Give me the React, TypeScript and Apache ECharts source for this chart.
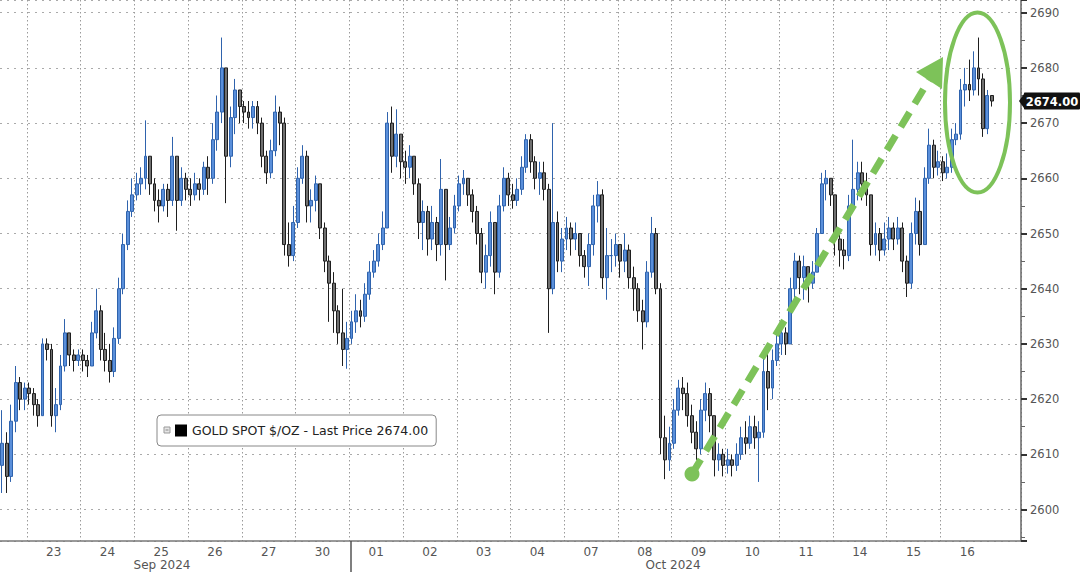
import React, { useEffect, useRef } from 'react';
import * as echarts from 'echarts';

// Trading days shown on the axis (first and last are partial)
const axisDays = ['20', '23', '24', '25', '26', '27', '30', '01', '02', '03', '04', '07', '08', '09', '10', '11', '14', '15', '16', '17'];
const slotsPerDay = [6, 12, 12, 12, 12, 12, 12, 12, 12, 12, 12, 12, 12, 12, 12, 12, 12, 12, 12, 6];
const labeledDays = ['23', '24', '25', '26', '27', '30', '01', '02', '03', '04', '07', '08', '09', '10', '11', '14', '15', '16'];
const monthLabels = ['Sep 2024', 'Oct 2024'];

const seriesName = 'GOLD SPOT $/OZ - Last Price 2674.00';
const lastPrice = 2674.0;
const firstOpen = 2608;

// Closing prices per candle (day by day)
const closes = [
  2612, 2606, 2616, 2623, 2620, 2622,
  2621, 2619, 2617, 2630, 2629, 2617, 2619, 2626, 2632, 2628, 2627, 2628,
  2627, 2626, 2632, 2636, 2629, 2627, 2625, 2631, 2640, 2648, 2654, 2657,
  2659, 2660, 2664, 2659, 2656, 2655, 2658, 2656, 2664, 2656, 2660, 2658,
  2657, 2659, 2658, 2662, 2660, 2667, 2672, 2680, 2664, 2671, 2676, 2673,
  2672, 2671, 2673, 2670, 2664, 2661, 2665, 2672, 2670, 2648, 2646, 2652,
  2660, 2664, 2655, 2656, 2659, 2651, 2645, 2641, 2636, 2632, 2629, 2631,
  2634, 2636, 2635, 2639, 2643, 2645, 2648, 2651, 2670, 2664, 2668, 2663,
  2662, 2664, 2659, 2652, 2654, 2649, 2652, 2648, 2658, 2648, 2651, 2655,
  2659, 2660, 2657, 2654, 2650, 2643, 2646, 2652, 2643, 2655, 2660, 2657,
  2656, 2658, 2662, 2667, 2663, 2660, 2661, 2658, 2640, 2652, 2645, 2649,
  2651, 2649, 2650, 2646, 2644, 2648, 2655, 2657, 2642, 2646, 2646, 2648,
  2645, 2647, 2642, 2640, 2636, 2634, 2643, 2650, 2640, 2613, 2609, 2612,
  2618, 2622, 2621, 2617, 2614, 2611, 2618, 2621, 2617, 2609, 2610, 2608,
  2609, 2608, 2610, 2613, 2612, 2615, 2613, 2614, 2625, 2622, 2627, 2630,
  2632, 2630, 2640, 2645, 2642, 2644, 2641, 2643, 2650, 2659, 2660, 2657,
  2649, 2647, 2646, 2655, 2658, 2661, 2659, 2657, 2648, 2650, 2647, 2649,
  2651, 2649, 2651, 2645, 2641, 2650, 2654, 2648, 2660, 2666, 2662, 2663,
  2661, 2662, 2667, 2668, 2676, 2677, 2676, 2680, 2678, 2669, 2675, 2674,
];

const highs = [
  2618, 2614, 2619, 2626, 2624, 2623,
  2623, 2622, 2620, 2631, 2631, 2630, 2622, 2628, 2634.5, 2632, 2629, 2629,
  2629, 2628, 2634, 2640, 2637, 2632, 2630, 2633, 2642, 2650, 2656, 2660,
  2661, 2662, 2670.5, 2664, 2660, 2658, 2659, 2659, 2667.5, 2664, 2662, 2661,
  2660, 2661, 2660, 2663, 2664, 2670, 2675, 2685.5, 2680, 2673, 2678, 2676,
  2674, 2674, 2674, 2674, 2671, 2665, 2667, 2675, 2673, 2671, 2652, 2655,
  2662, 2666, 2665, 2658, 2660.5, 2659, 2652, 2646, 2643, 2637, 2640, 2634,
  2636, 2639, 2638, 2641, 2645, 2647, 2650, 2654, 2672, 2673, 2672.5, 2668,
  2665, 2666, 2664, 2660, 2656, 2655, 2655, 2653, 2663.5, 2658, 2653, 2657,
  2660.5, 2661.5, 2660, 2658, 2655, 2651, 2648, 2654, 2652, 2657, 2662, 2661,
  2659, 2660, 2664, 2668, 2668, 2664, 2663, 2663, 2659, 2670, 2654, 2651,
  2653, 2652, 2652, 2650, 2647, 2650, 2657, 2659.5, 2658, 2651, 2649, 2650,
  2648, 2650, 2648, 2644, 2641, 2638, 2645, 2653, 2651, 2641, 2617, 2615,
  2620, 2623.5, 2624, 2623, 2619, 2616, 2620, 2623, 2622, 2617, 2612, 2611,
  2611, 2610, 2612, 2615, 2616, 2617, 2617, 2616, 2628, 2629.5, 2629, 2632,
  2634, 2633, 2642, 2646.5, 2646, 2646, 2644, 2645, 2651, 2661, 2661.5, 2660,
  2657, 2651, 2649, 2657, 2667, 2663, 2663, 2661, 2657, 2652, 2651, 2652,
  2653, 2652, 2653, 2652, 2646, 2652, 2656.5, 2656, 2662, 2669, 2667, 2665,
  2664, 2664.5, 2669, 2670, 2678, 2680, 2681.5, 2683, 2685.5, 2679, 2676, 2675,
];

const lows = [
  2603, 2603, 2605, 2614, 2618, 2618,
  2619, 2617, 2615, 2617, 2627, 2615, 2614, 2618, 2625, 2626, 2625, 2626,
  2625, 2624, 2626, 2631, 2627, 2625, 2623, 2624, 2630, 2639, 2647, 2653,
  2656, 2657, 2658, 2657, 2654, 2652, 2654, 2653, 2655, 2650.5, 2655, 2656,
  2655, 2656, 2656, 2657, 2657, 2659, 2665, 2670, 2655.5, 2662, 2668, 2670,
  2670, 2669, 2669, 2668, 2662, 2659, 2660, 2664, 2666, 2646, 2644, 2645,
  2651, 2659, 2652, 2652, 2654, 2649, 2643, 2634, 2632, 2630, 2626, 2625.5,
  2630, 2632, 2633, 2634, 2638, 2642, 2644, 2647, 2651, 2661, 2662, 2660,
  2659, 2660, 2657, 2649, 2647, 2646, 2647, 2645, 2646, 2641.5, 2647, 2650,
  2654, 2657, 2655, 2652, 2648, 2641, 2640, 2644, 2639, 2642, 2654, 2655,
  2654.5, 2655, 2657, 2661, 2661, 2658, 2657, 2656, 2632, 2639, 2643, 2643,
  2647, 2646, 2647, 2644, 2642, 2640.5, 2646, 2652, 2640, 2638, 2643, 2644,
  2642, 2643, 2640, 2636, 2634, 2629, 2633, 2642, 2639, 2610, 2605.5, 2607,
  2611, 2617, 2618, 2615, 2612, 2609, 2610, 2616, 2614, 2606, 2607, 2606,
  2606.5, 2606, 2607, 2609, 2610, 2611, 2611, 2605, 2613, 2618, 2620, 2626,
  2628, 2628, 2630, 2637, 2639, 2638, 2637.5, 2640, 2643, 2650, 2656, 2655,
  2646, 2644, 2643.5, 2645, 2654, 2656, 2656, 2655, 2646, 2646, 2645, 2646,
  2647, 2647, 2648, 2643, 2638.5, 2640, 2648, 2646, 2648, 2659, 2660, 2660.5,
  2659.5, 2660, 2661, 2666, 2667, 2673, 2674, 2675, 2675, 2667.5, 2668, 2673,
];

const GREEN = '#7dc259';
const FONT = 'DejaVu Sans';

export default function App() {
  const ref = useRef<HTMLDivElement>(null);

  useEffect(() => {
    if (!ref.current) return;
    const chart = echarts.init(ref.current, null, { renderer: 'svg' });

    const categories: string[] = [];
    axisDays.forEach((d, di) => {
      for (let j = 0; j < slotsPerDay[di]; j++) categories.push(`${d}|${j}|${di}`);
    });
    const dayStart: number[] = [];
    let acc = 0;
    slotsPerDay.forEach((n) => { dayStart.push(acc); acc += n; });

    const candles = closes.map((c, i) => {
      const o = i === 0 ? firstOpen : closes[i - 1];
      const h = Math.max(highs[i], o, c);
      const l = Math.min(lows[i], o, c);
      return [o, c, l, h];
    });

    const option: any = {
      animation: false,
      backgroundColor: '#ffffff',
      textStyle: { fontFamily: FONT },
      grid: { left: 0, right: 59, top: 0, bottom: 31, containLabel: false },
      legend: {
        show: true,
        left: 157,
        top: 415,
        padding: [9, 8, 9, 18],
        backgroundColor: '#ffffff',
        borderColor: '#888',
        borderWidth: 1,
        borderRadius: 4,
        itemWidth: 12,
        itemHeight: 12,
        itemGap: 0,
        selectedMode: false,
        textStyle: { color: '#222', fontSize: 12.5, fontFamily: FONT },
        data: [{ name: seriesName, icon: 'rect', itemStyle: { color: '#000', borderWidth: 0 } }],
      },
      xAxis: {
        type: 'category',
        data: categories,
        boundaryGap: true,
        axisLine: { show: true, lineStyle: { color: '#777', width: 1.5 } },
        axisTick: { show: false },
        axisLabel: {
          show: true,
          interval: (index: number, value: string) => {
            const parts = value.split('|');
            return parts[1] === '5' && labeledDays.indexOf(parts[0]) >= 0 && slotsPerDay[Number(parts[2])] === 12;
          },
          formatter: (value: string) => value.split('|')[0],
          color: '#555',
          fontSize: 12,
          fontFamily: FONT,
          margin: 5,
          padding: [0, 0, 0, 4.5],
        },
        splitLine: {
          show: true,
          interval: (index: number) => {
            for (let k = 1; k < dayStart.length - 1; k++) if (dayStart[k] === index) return true;
            return false;
          },
          lineStyle: { color: '#9a9a9a', type: [1.5, 2.5], width: 1 },
        },
      },
      yAxis: {
        type: 'value',
        position: 'right',
        min: 2594.3,
        max: 2692.3,
        splitNumber: 10,
        scale: true,
        axisLine: { show: true, lineStyle: { color: '#666', width: 1.5 } },
        axisTick: { show: true, length: 6, lineStyle: { color: '#333', width: 2 } },
        minorTick: { show: true, splitNumber: 2, length: 4, lineStyle: { color: '#666', width: 1 } },
        axisLabel: {
          color: '#555',
          fontSize: 11.5,
          fontFamily: FONT,
          margin: 9,
          showMinLabel: false,
          showMaxLabel: false,
          formatter: (v: number) => (Math.abs(v - Math.round(v)) < 1e-6 && Math.round(v) % 10 === 0 ? String(Math.round(v)) : ''),
        },
        splitLine: { show: true, lineStyle: { color: '#aaa', type: [2, 5], width: 1 } },
      },
      series: [
        {
          name: seriesName,
          type: 'candlestick',
          data: candles,
          barWidth: 3.4,
          itemStyle: {
            color: '#5a8fda',
            color0: '#707070',
            borderColor: '#2f63ad',
            borderColor0: '#1e1e1e',
            borderWidth: 1,
          },
        },
      ],
    };

    chart.setOption(option);

    const tagY = chart.convertToPixel({ yAxisIndex: 0 }, lastPrice) as number;
    const axisX = 1021;

    chart.setOption({
      graphic: [
        // month labels + month separator
        { type: 'text', x: 162, y: 565, z: 50, style: { text: monthLabels[0], fill: '#555', fontSize: 12, fontFamily: FONT, align: 'center', verticalAlign: 'middle' } },
        { type: 'text', x: 673, y: 565, z: 50, style: { text: monthLabels[1], fill: '#555', fontSize: 12, fontFamily: FONT, align: 'center', verticalAlign: 'middle' } },
        { type: 'line', z: 50, shape: { x1: 351, y1: 541, x2: 351, y2: 572 }, style: { stroke: '#555', lineWidth: 1.5 } },
        // last price tag
        { type: 'polygon', z: 50, shape: { points: [[axisX - 2, tagY], [axisX + 4, tagY - 8.5], [axisX + 4, tagY + 8.5]] }, style: { fill: '#111' } },
        { type: 'rect', z: 50, shape: { x: axisX + 3, y: tagY - 8.5, width: 56, height: 17, r: 1 }, style: { fill: '#111' } },
        { type: 'text', z: 51, x: axisX + 31, y: tagY + 0.5, style: { text: lastPrice.toFixed(2), fill: '#fff', fontSize: 11.5, fontWeight: 'bold', fontFamily: FONT, align: 'center', verticalAlign: 'middle' } },
        // legend small icon
        { type: 'rect', z: 50, shape: { x: 164, y: 427, width: 6, height: 6 }, style: { fill: '#e6e6e6', stroke: '#999', lineWidth: 1 } },
        { type: 'line', z: 51, shape: { x1: 165.5, y1: 430, x2: 168.5, y2: 430 }, style: { stroke: '#888', lineWidth: 1 } },
        // green annotations
        { type: 'line', z: 60, shape: { x1: 692, y1: 474, x2: 929, y2: 80 }, style: { stroke: GREEN, lineWidth: 7, lineDash: [17, 10] } },
        { type: 'circle', z: 60, shape: { cx: 692, cy: 474, r: 7.5 }, style: { fill: GREEN } },
        { type: 'polygon', z: 60, shape: { points: [[943, 57], [916, 72], [942, 89]] }, style: { fill: GREEN } },
        { type: 'ellipse', z: 60, shape: { cx: 977.5, cy: 102.5, rx: 32.5, ry: 90 }, style: { fill: 'none', stroke: GREEN, lineWidth: 4 } },
      ],
    });

    return () => chart.dispose();
  }, []);

  return (
    <div
      ref={ref}
      style={{ position: 'fixed', left: 0, top: 0, width: 1080, height: 572, background: '#fff' }}
    />
  );
}
